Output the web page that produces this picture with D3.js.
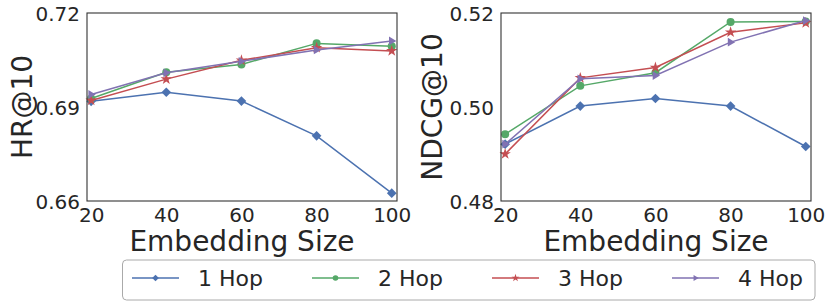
<!DOCTYPE html>
<html><head><meta charset="utf-8">
<script src="https://cdn.jsdelivr.net/npm/d3@7"></script>
<style>body{margin:0;background:#fff}svg text{font-family:"DejaVu Sans",sans-serif;fill:#262626}</style>
</head><body><svg id="c" width="830" height="307"></svg>
<script>
const sizes = [20, 40, 60, 80, 100];
const seriesNames = ["1 Hop", "2 Hop", "3 Hop", "4 Hop"];
const hr1 = [0.6918, 0.6947, 0.6919, 0.6808, 0.6625];
const hr2 = [0.6927, 0.7011, 0.7036, 0.7103, 0.7094];
const hr3 = [0.6921, 0.6989, 0.7049, 0.7089, 0.7079];
const hr4 = [0.6940, 0.7009, 0.7046, 0.7082, 0.7111];
const nd1 = [0.4921, 0.5002, 0.5018, 0.5002, 0.4916];
const nd2 = [0.4942, 0.5045, 0.5073, 0.5181, 0.5182];
const nd3 = [0.4900, 0.5062, 0.5084, 0.5159, 0.5179];
const nd4 = [0.4921, 0.5060, 0.5067, 0.5138, 0.5184];
const hrTicks = [0.66, 0.69, 0.72];
const ndTicks = [0.48, 0.50, 0.52];

const colors = ["#4C72B0", "#55A868", "#C44E52", "#8172B2"];
const svg = d3.select("#c");

function markerPath(i, s) {
  if (i === 0) { // square diamond (matplotlib 'D')
    const r = s * 1.05;
    return `M0,${-r}L${r},0L0,${r}L${-r},0Z`;
  }
  if (i === 1) return d3.symbol().type(d3.symbolCircle).size(s * s * 2.4)();
  if (i === 2) return d3.symbol().type(d3.symbolStar).size(s * s * 1.9)();
  const r = s; // right-pointing triangle
  return `M${r},0L${-r*0.6},${-r*0.95}L${-r*0.6},${r*0.95}Z`;
}

function panel(x0, yLabel, yTicks, data, labelX) {
  const W = 310, top = 13, bottom = 201;
  const x = d3.scaleLinear().domain([18.9, 101.4]).range([x0, x0 + W]);
  const y = d3.scaleLinear().domain([yTicks[0], yTicks[2]]).range([bottom, top]);
  const g = svg.append("g");
  data.forEach((vals, i) => {
    const line = d3.line().x((d, j) => x(sizes[j])).y(d => y(d));
    g.append("path").attr("d", line(vals)).attr("fill", "none")
      .attr("stroke", colors[i]).attr("stroke-width", 1.5);
    g.selectAll(null).data(vals).enter().append("path")
      .attr("d", markerPath(i, 4.6))
      .attr("transform", (d, j) => `translate(${x(sizes[j])},${y(d)})`)
      .attr("fill", colors[i]);
  });
  g.append("rect").attr("x", x0).attr("y", top).attr("width", W).attr("height", bottom - top)
    .attr("fill", "none").attr("stroke", "#333").attr("stroke-width", 1.1);
  const xa = g.append("g").attr("transform", `translate(0,${bottom})`)
    .call(d3.axisBottom(x).tickValues(sizes).tickSize(0).tickPadding(7).tickFormat(d3.format("d")));
  xa.select(".domain").remove();
  xa.selectAll("text").attr("font-size", 20).attr("dy", "0.72em").attr("fill", "#262626");
  const ya = g.append("g").attr("transform", `translate(${x0},0)`)
    .call(d3.axisLeft(y).tickValues(yTicks).tickSize(0).tickPadding(7).tickFormat(d3.format(".2f")));
  ya.select(".domain").remove();
  ya.selectAll("text").attr("font-size", 20).attr("dy", "0.36em").attr("fill", "#262626");
  g.append("text").attr("x", x0 + W / 2).attr("y", 251).attr("text-anchor", "middle")
    .attr("font-size", 28).text("Embedding Size");
  g.append("text").attr("transform", `translate(${labelX},${(top + bottom) / 2}) rotate(-90)`)
    .attr("text-anchor", "middle").attr("dy", "0.36em").attr("font-size", 28).text(yLabel);
}

panel(87, "HR@10", hrTicks, [hr1, hr2, hr3, hr4], 22);
panel(501, "NDCG@10", ndTicks, [nd1, nd2, nd3, nd4], 432);

const lg = svg.append("g");
lg.append("rect").attr("x", 122.5).attr("y", 260).attr("width", 692.5).attr("height", 40)
  .attr("rx", 4).attr("fill", "#fff").attr("stroke", "#aaa").attr("stroke-width", 1);
seriesNames.forEach((name, i) => {
  const lx = 132 + i * 180, ly = 278;
  lg.append("line").attr("x1", lx).attr("x2", lx + 47).attr("y1", ly).attr("y2", ly)
    .attr("stroke", colors[i]).attr("stroke-width", 1.5);
  lg.append("path").attr("d", markerPath(i, 3.2))
    .attr("transform", `translate(${lx + 23.5},${ly})`).attr("fill", colors[i]);
  lg.append("text").attr("x", lx + 66).attr("y", ly).attr("dy", "0.36em")
    .attr("font-size", 22).text(name);
});
</script></body></html>
